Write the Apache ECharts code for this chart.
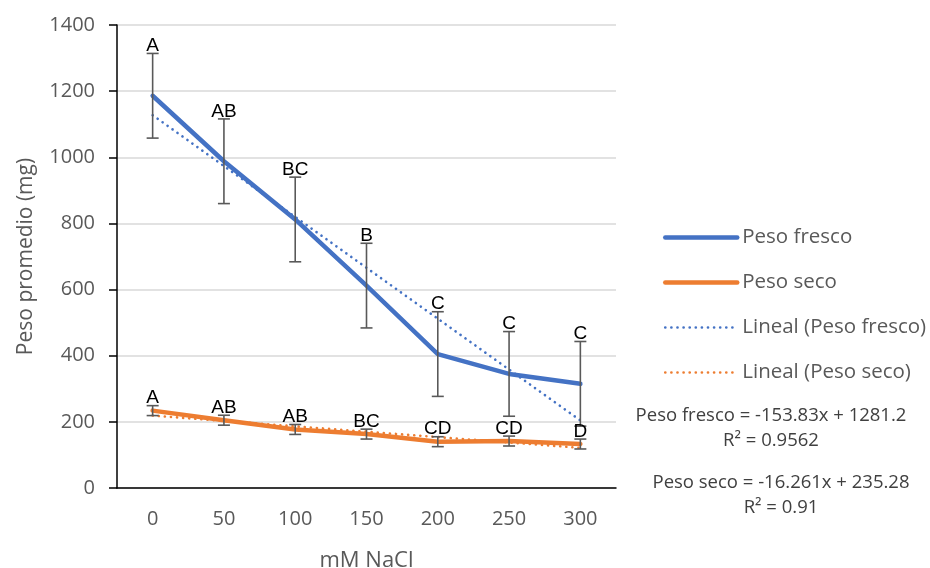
<!DOCTYPE html>
<html>
<head>
<meta charset="utf-8">
<title>Peso promedio vs NaCl</title>
<script src="https://cdn.jsdelivr.net/npm/echarts@6/dist/echarts.min.js"></script>
<style>
  html, body { margin: 0; padding: 0; background: #fff; }
  #chart { width: 930px; height: 568px; }
</style>
</head>
<body>
<div id="chart"></div>
<script>
// Concentrations of NaCl (mM)
const categories = ['0', '50', '100', '150', '200', '250', '300'];

// Mean weights (mg)
const pesoFresco = [1186, 988, 812, 612, 405, 345, 315];
const pesoSeco = [234, 205, 177, 163, 140, 142, 133];

// Standard error (same for every treatment)
const errFresco = [128, 128, 128, 128, 128, 128, 128];
const errSeco = [15, 15, 15, 15, 15, 15, 15];

// Significance letters
const letrasFresco = ['A', 'AB', 'BC', 'B', 'C', 'C', 'C'];
const letrasSeco = ['A', 'AB', 'AB', 'BC', 'CD', 'CD', 'D'];

// Linear fits (x = treatment position 1..7)
const fitFresco = { slope: -153.83, intercept: 1281.2, r2: '0.9562' };
const fitSeco = { slope: -16.261, intercept: 235.28, r2: '0.91' };

const trend = (fit) => categories.map((_, i) => +(fit.slope * (i + 1) + fit.intercept).toFixed(2));

const BLUE = '#4472C4';
const ORANGE = '#ED7D31';
const GREY_TXT = '#595959';
const FONT = '"Open Sans", "Noto Sans", sans-serif';

function errorBarSeries(values, errs, letters) {
  return {
    type: 'custom',
    silent: true,
    z: 10,
    data: values.map((v, i) => [i, v, errs[i]]),
    renderItem: function (params, api) {
      const i = api.value(0), v = api.value(1), e = api.value(2);
      const top = api.coord([i, v + e]);
      const bot = api.coord([i, v - e]);
      const cap = 6;
      const st = { stroke: '#595959', lineWidth: 1.6 };
      return {
        type: 'group',
        children: [
          { type: 'line', shape: { x1: top[0], y1: top[1], x2: bot[0], y2: bot[1] }, style: st },
          { type: 'line', shape: { x1: top[0] - cap, y1: top[1], x2: top[0] + cap, y2: top[1] }, style: st },
          { type: 'line', shape: { x1: bot[0] - cap, y1: bot[1], x2: bot[0] + cap, y2: bot[1] }, style: st },
          {
            type: 'text',
            style: {
              text: letters[params.dataIndex],
              x: top[0], y: top[1] + 2,
              align: 'center', verticalAlign: 'bottom',
              font: '19px "Liberation Sans", Arial, sans-serif',
              fill: '#000'
            }
          }
        ]
      };
    }
  };
}

const chart = echarts.init(document.getElementById('chart'), null, { renderer: 'canvas' });

chart.setOption({
  animation: false,
  backgroundColor: '#fff',
  grid: { left: 117, right: 314, top: 25, bottom: 80, outerBoundsMode: 'none', containLabel: false },
  legend: {
    orient: 'vertical',
    left: 658,
    top: 222,
    itemWidth: 72,
    itemHeight: 14,
    itemGap: 24,
    itemStyle: { opacity: 0 },
    lineStyle: { width: 'inherit' },
    textStyle: { color: GREY_TXT, fontSize: 20.5, fontFamily: FONT },
    data: ['Peso fresco', 'Peso seco', 'Lineal (Peso fresco)', 'Lineal (Peso seco)']
  },
  xAxis: {
    type: 'category',
    data: categories,
    boundaryGap: true,
    name: 'mM NaCl',
    nameLocation: 'middle',
    nameGap: 62,
    nameTextStyle: { color: GREY_TXT, fontSize: 22, fontFamily: FONT },
    axisLine: { lineStyle: { color: '#000', width: 1.5 } },
    axisTick: { show: false },
    axisLabel: { color: GREY_TXT, fontSize: 20, fontFamily: FONT, margin: 21 },
    splitLine: { show: false }
  },
  yAxis: {
    type: 'value',
    min: 0,
    max: 1400,
    interval: 200,
    name: 'Peso promedio (mg)',
    nameLocation: 'middle',
    nameGap: 80,
    nameTextStyle: { color: GREY_TXT, fontSize: 21, fontFamily: FONT },
    axisLine: { show: true, lineStyle: { color: '#000', width: 1.5 } },
    axisTick: { show: true, inside: false, length: 8, lineStyle: { color: '#000', width: 1.5 } },
    axisLabel: { color: GREY_TXT, fontSize: 20, fontFamily: FONT, margin: 22, formatter: (v) => String(v) },
    splitLine: { show: true, lineStyle: { color: '#d9d9d9', width: 1.5 } }
  },
  series: [
    {
      name: 'Peso fresco',
      type: 'line',
      data: pesoFresco,
      symbol: 'none',
      z: 3,
      lineStyle: { color: BLUE, width: 4.5, cap: 'round', join: 'round' },
      itemStyle: { color: BLUE }
    },
    {
      name: 'Peso seco',
      type: 'line',
      data: pesoSeco,
      symbol: 'none',
      z: 3,
      lineStyle: { color: ORANGE, width: 4.5, cap: 'round', join: 'round' },
      itemStyle: { color: ORANGE }
    },
    {
      name: 'Lineal (Peso fresco)',
      type: 'line',
      data: trend(fitFresco),
      symbol: 'none',
      z: 5,
      lineStyle: { color: BLUE, width: 2.6, type: [0.1, 6], cap: 'round' },
      itemStyle: { color: BLUE }
    },
    {
      name: 'Lineal (Peso seco)',
      type: 'line',
      data: trend(fitSeco),
      symbol: 'none',
      z: 5,
      lineStyle: { color: ORANGE, width: 2.6, type: [0.1, 6], cap: 'round' },
      itemStyle: { color: ORANGE }
    },
    errorBarSeries(pesoFresco, errFresco, letrasFresco),
    errorBarSeries(pesoSeco, errSeco, letrasSeco)
  ],
  graphic: [
    {
      type: 'text',
      style: {
        text: 'Peso fresco = ' + fitFresco.slope + 'x + ' + fitFresco.intercept + '\nR² = ' + fitFresco.r2,
        x: 771, y: 403, align: 'center', verticalAlign: 'top',
        font: '18.5px "Open Sans", "Noto Sans", sans-serif', fill: '#404040', lineHeight: 25
      }
    },
    {
      type: 'text',
      style: {
        text: 'Peso seco = ' + fitSeco.slope + 'x + ' + fitSeco.intercept + '\nR² = ' + fitSeco.r2,
        x: 781, y: 470, align: 'center', verticalAlign: 'top',
        font: '18.5px "Open Sans", "Noto Sans", sans-serif', fill: '#404040', lineHeight: 25
      }
    }
  ]
});
</script>
</body>
</html>
